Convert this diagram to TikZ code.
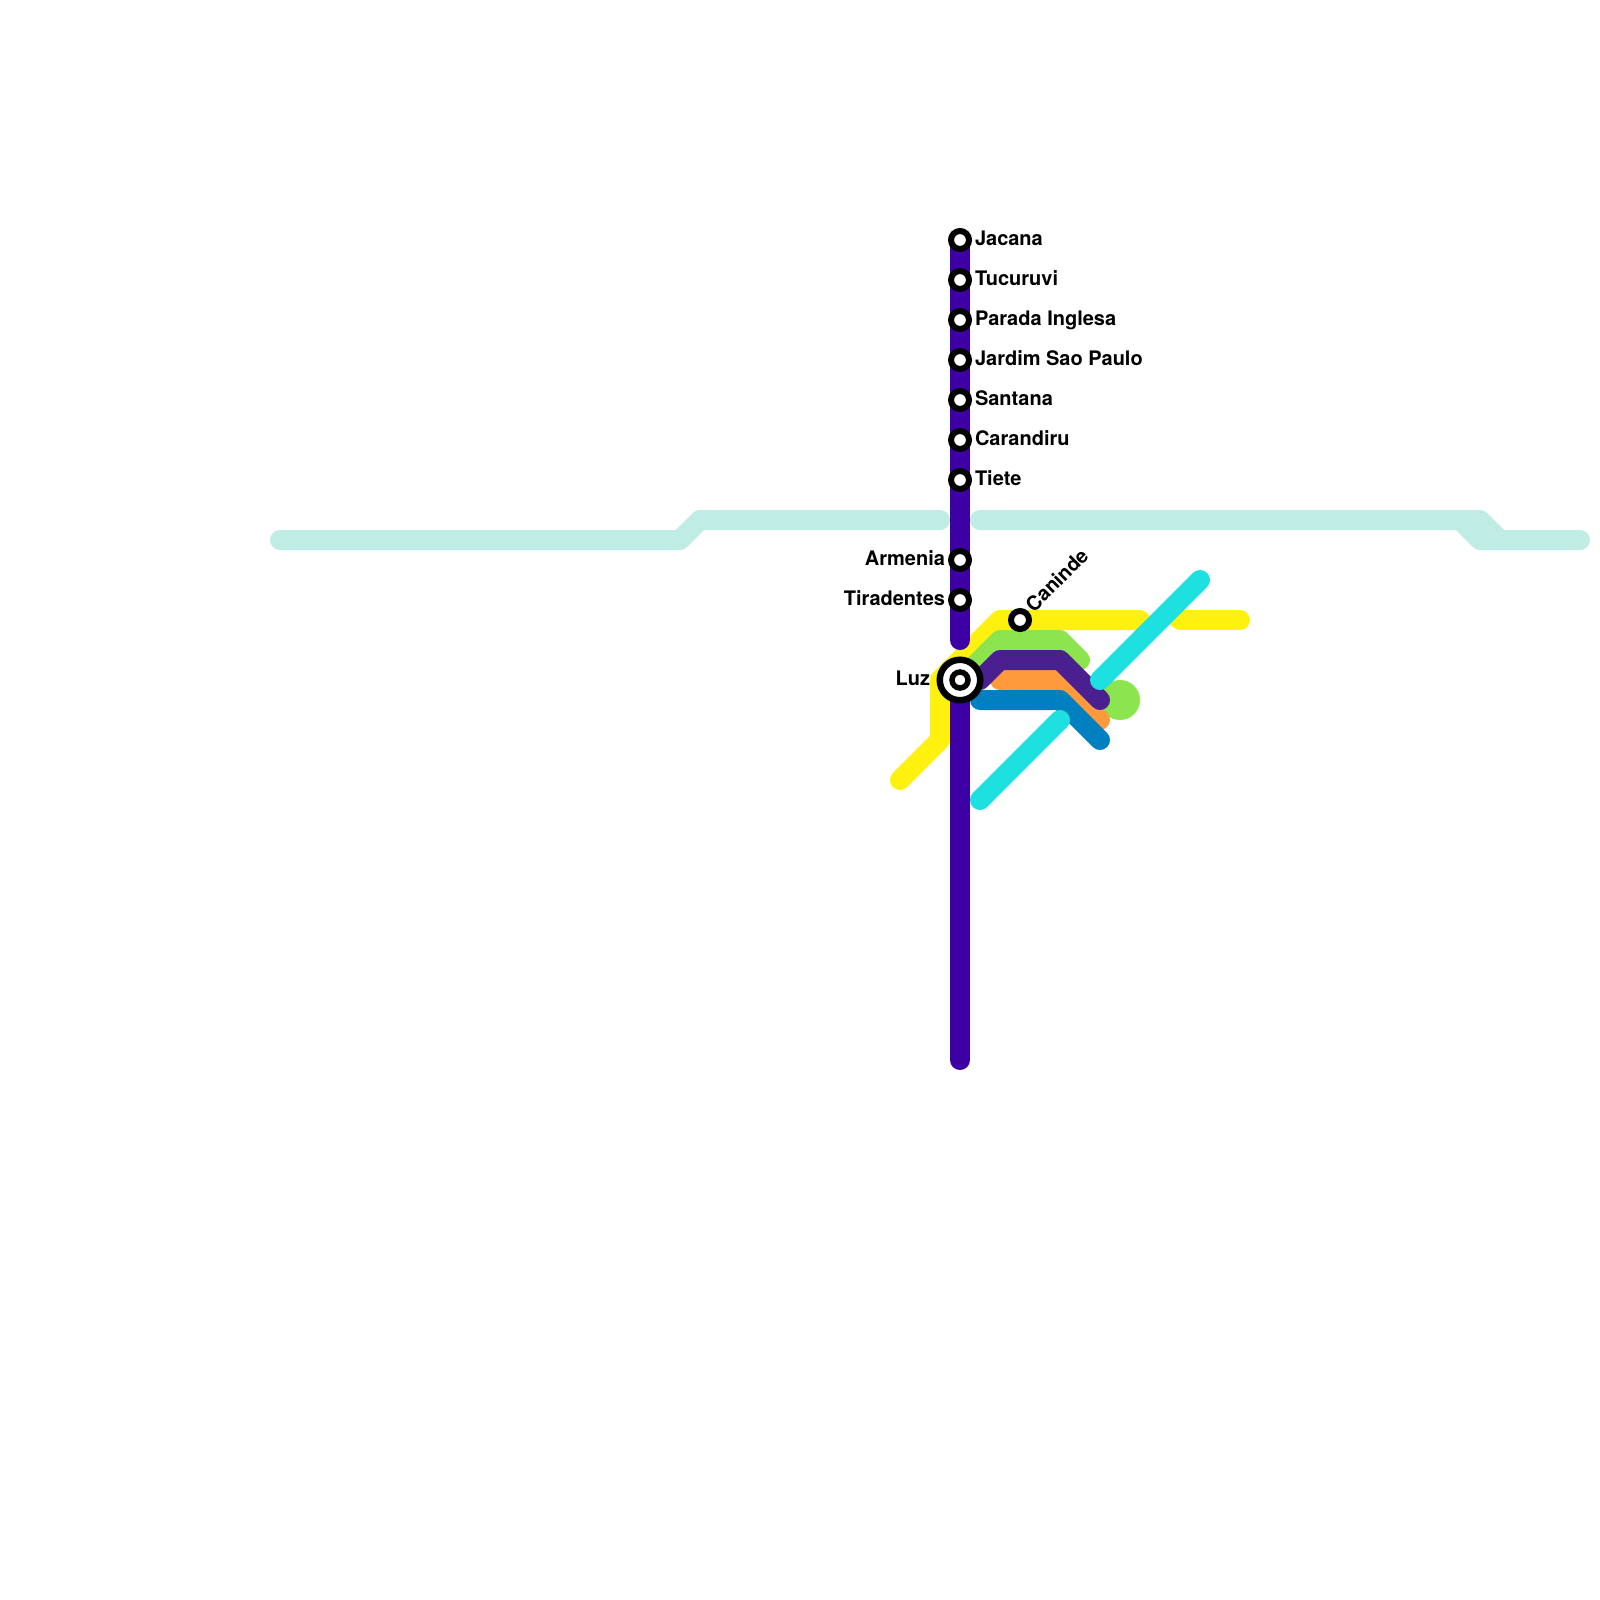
\documentclass[tikz,border=0pt]{standalone}
\usepackage{fontspec}
\setmainfont{TeX Gyre Heros}
\definecolor{cpale}{HTML}{BFEDE6}
\definecolor{cyellow}{HTML}{FFF10F}
\definecolor{cgreen}{HTML}{8CE44E}
\definecolor{corange}{HTML}{FF9A3C}
\definecolor{cdeep}{HTML}{4A1F8F}
\definecolor{cblue}{HTML}{0080C0}
\definecolor{ccyan}{HTML}{1FE0E0}
\definecolor{cindigo}{HTML}{3D00A5}
\tikzset{
  metro/.style={line width=20pt,line cap=round,line join=round},
  stop/.style={circle,draw=black,fill=white,line width=6pt,minimum size=18pt,inner sep=0pt,outer sep=0pt},
  hubcore/.style={circle,draw=black,fill=white,line width=5.5pt,minimum size=16pt,inner sep=0pt,outer sep=0pt},
  bigstop/.style={circle,draw=black,fill=white,line width=6.5pt,minimum size=40.5pt,inner sep=0pt,outer sep=0pt},
  lblr/.style={anchor=base west,font=\bfseries\fontsize{20pt}{22pt}\selectfont,inner sep=0pt,outer sep=0pt,text=black},
  lbll/.style={anchor=base east,font=\bfseries\fontsize{20pt}{22pt}\selectfont,inner sep=0pt,outer sep=0pt,text=black},
}
\begin{document}
\begin{tikzpicture}[x=1pt,y=-1pt]
\useasboundingbox (0,0) rectangle (1600,1600);
\fill[white] (0,0) rectangle (1600,1600);
% stations' positions
\foreach \n/\y in {jac/240,tuc/280,par/320,jar/360,san/400,car/440,tie/480,arm/560,tir/600,luz/680}
  \coordinate (\n) at (960,\y);
\coordinate (can) at (1020,620);
\coordinate (stub) at (960,640);
\coordinate (south) at (960,1060);
% pale line
\draw[metro,cpale] (280,540) -- (680,540) -- (700,520) -- (940,520);
\draw[metro,cpale] (980,520) -- (1480,520) -- (1500,540) -- (1580,540);
\draw[metro,cpale] (1440,520) -- (1460,520) -- (1480,540) -- (1500,540);
% yellow line
\draw[metro,cyellow] (900,780) -- (940,740) -- (940,680) -- (1000,620) -- (1140,620);
\draw[metro,cyellow] (1180,620) -- (1240,620);
% green line
\fill[cgreen] (1120,700) circle (20pt);
\draw[metro,cgreen] (960,680) -- (1000,640) -- (1060,640) -- (1080,660);
% orange
\draw[metro,corange] (1000,680) -- (1060,680) -- (1100,720);
% deep purple
\draw[metro,cdeep] (980,680) -- (1000,660) -- (1060,660) -- (1100,700);
% blue
\draw[metro,cblue] (980,700) -- (1060,700) -- (1100,740);
% cyan
\draw[metro,ccyan] (980,800) -- (1060,720);
\draw[metro,ccyan] (1100,680) -- (1200,580);
% main line
\draw[metro,cindigo] (jac) -- (stub);
\draw[metro,cindigo] (luz) -- (south);
% stations
\node[bigstop] (luzo) at (luz) {};
\node[hubcore] (sluz) at (luz) {};
\foreach \n in {jac,tuc,par,jar,san,car,tie,arm,tir,can}
  \node[stop] (s\n) at (\n) {};
% labels
\node[lblr] (ljac) at (975,245) {Jacana};
\node[lblr] (ltuc) at (975,285) {Tucuruvi};
\node[lblr] (lpar) at (975,325) {Parada Inglesa};
\node[lblr] (ljar) at (975,365) {Jardim Sao Paulo};
\node[lblr] (lsan) at (975,405) {Santana};
\node[lblr] (lcar) at (975,445) {Carandiru};
\node[lblr] (ltie) at (975,485) {Tiete};
\node[lbll] (larm) at (945,565) {Armenia};
\node[lbll] (ltir) at (945,605) {Tiradentes};
\node[lbll] (lluz) at (930,685) {Luz};
\node[lblr,rotate=45] (lcan) at (1034,613) {Caninde};
\end{tikzpicture}
\end{document}
